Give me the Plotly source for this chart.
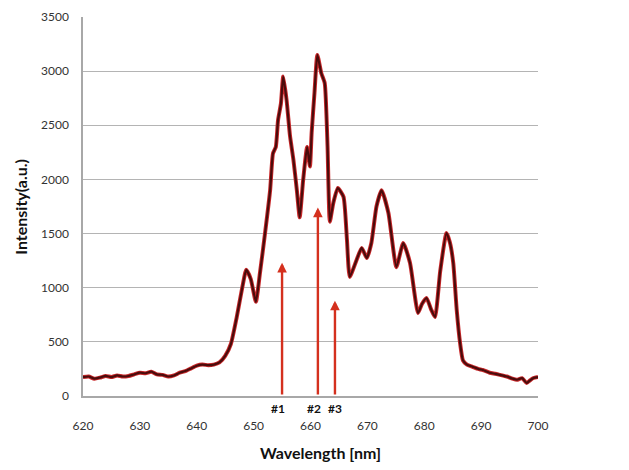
import plotly.graph_objects as go

# ---- data ----
wavelength = [620, 621, 622, 623, 624, 625, 626, 627, 628, 629, 630, 631, 632, 633, 634,
              635, 636, 637, 638, 639, 640, 641, 642, 643, 644, 645, 646, 647, 648, 648.7,
              649.5, 650.4, 651.1, 652.0, 652.9, 653.4, 653.9, 654.3, 654.8, 655.2, 655.8,
              656.4, 657.0, 657.6, 658.1, 658.7, 659.4, 659.9, 660.2, 660.7, 661.2, 661.9,
              662.5, 663.0, 663.4, 664.0, 664.8, 665.8, 666.4, 666.9, 668.1, 669.0, 669.9,
              670.7, 671.6, 672.5, 673.7, 675.1, 676.3, 677.5, 678.9, 679.6, 680.4, 681.2,
              681.9, 682.8, 683.9, 684.5, 685.1, 685.7, 686.3, 686.8, 687.5, 688.5,
              689.5, 690.3, 691.5, 692.5, 693.3, 694.5, 695.5, 696.3, 697.2, 698, 698.6,
              699.2, 700]
intensity = [175, 180, 160, 170, 185, 175, 190, 180, 185, 200, 215, 210, 225, 200, 195,
             180, 190, 215, 230, 255, 280, 290, 285, 290, 310, 370, 480, 720, 1000, 1165,
             1080, 870, 1130, 1500, 1900, 2240, 2300, 2550, 2700, 2950, 2730,
             2400, 2180, 1900, 1650, 1990, 2300, 2120, 2430, 2800, 3150, 2980,
             2890, 2300, 1610, 1780, 1920, 1840, 1450, 1100, 1256, 1367, 1274,
             1413, 1750, 1900, 1690, 1190, 1413, 1228, 766, 850, 905, 800,
             729, 1150, 1505, 1420, 1228, 800, 489, 330, 290, 270,
             250, 240, 215, 205, 195, 180, 160, 150, 165, 120, 145,
             166, 175]

arrow_x = [655.0, 661.3, 664.3]
arrow_top = [1230, 1740, 880]
arrow_labels = ["#1", "#2", "#3"]
arrow_label_shift = [-4, -4, 0]

x_ticks = [620, 630, 640, 650, 660, 670, 680, 690, 700]
y_ticks = [0, 500, 1000, 1500, 2000, 2500, 3000, 3500]

FONT = "Lato"

fig = go.Figure()
fig.add_trace(go.Scatter(x=wavelength, y=intensity, mode="lines",
                         line=dict(color="#c8282a", width=4.0, shape="spline", smoothing=0.5),
                         hoverinfo="skip"))
fig.add_trace(go.Scatter(x=wavelength, y=intensity, mode="lines",
                         line=dict(color="#4a0c0c", width=2.2, shape="spline", smoothing=0.5)))

annotations = []
for xa, top, lab, sh in zip(arrow_x, arrow_top, arrow_labels, arrow_label_shift):
    annotations.append(dict(x=xa, y=top, ax=xa, ay=0, xref="x", yref="y",
                            axref="x", ayref="y", text="", showarrow=True,
                            arrowhead=2, arrowsize=0.8, arrowwidth=2.4,
                            arrowcolor="#d4301e", standoff=0, startstandoff=0))
    annotations.append(dict(x=xa, y=0, xref="x", yref="y", text="<b>" + lab + "</b>",
                            showarrow=False, yanchor="top", yshift=-3, xshift=sh,
                            font=dict(family=FONT, size=12, color="#111111")))

annotations.append(dict(x=0.5, y=-0.148, xref="paper", yref="paper", xshift=10,
                        text="<b>Wavelength [nm]</b>", showarrow=False,
                        yanchor="middle", font=dict(family=FONT, size=16, color="#111111")))
annotations.append(dict(x=-0.138, y=0.5, xref="paper", yref="paper",
                        text="<b>Intensity(a.u.)</b>", showarrow=False, textangle=-90,
                        xanchor="center", font=dict(family=FONT, size=16, color="#111111")))

fig.update_layout(
    width=621, height=462,
    margin=dict(l=75, r=91, t=9, b=74, autoexpand=False),
    paper_bgcolor="white", plot_bgcolor="white",
    showlegend=False,
    annotations=annotations,
    font=dict(family=FONT, size=12, color="#333333"),
)
fig.update_xaxes(range=[620, 700], tickvals=x_ticks, showgrid=False, zeroline=False,
                 showline=True, linecolor="#a8a8a8", linewidth=1.5, ticks="",
                 automargin=False,
                 ticklabelstandoff=18, tickfont=dict(family=FONT, size=12, color="#333333"))
fig.update_yaxes(range=[0, 3500], tickvals=y_ticks, showgrid=True, gridcolor="#b4b4b4",
                 gridwidth=1.4, zeroline=False, showline=True, linecolor="#a8a8a8",
                 linewidth=1.5, ticks="", ticklabelstandoff=10, automargin=False,
                 tickfont=dict(family=FONT, size=12, color="#333333"))

fig.write_html("out.html")
